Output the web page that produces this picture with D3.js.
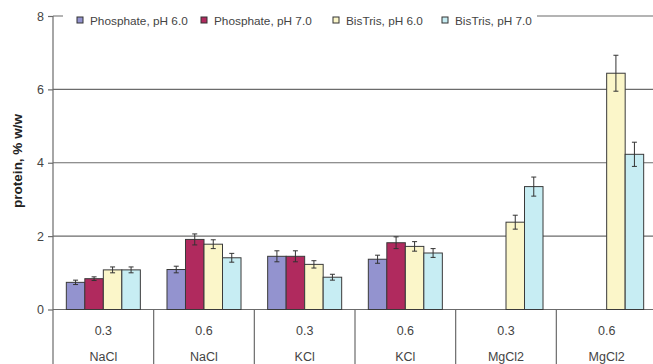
<!DOCTYPE html>
<html>
<head>
<meta charset="utf-8">
<script src="https://cdn.jsdelivr.net/npm/d3@7/dist/d3.min.js"></script>
<style>
  html, body { margin: 0; padding: 0; background: #fff; }
  svg { display: block; font-family: "Liberation Sans", Arial, sans-serif; }
</style>
</head>
<body>
<svg id="chart" width="653" height="364"></svg>
<script>
// Salt concentration (M) and salt type for each group
const concentrations = ["0.3", "0.6", "0.3", "0.6", "0.3", "0.6"];
const salts = ["NaCl", "NaCl", "KCl", "KCl", "MgCl2", "MgCl2"];

// Buffer series
const seriesNames = ["Phosphate, pH 6.0", "Phosphate, pH 7.0", "BisTris, pH 6.0", "BisTris, pH 7.0"];
const seriesColors = ["#9393cf", "#b02a5e", "#fbf6c9", "#c7edf3"];

// Protein solubility (% w/w); null = not measured
const phosphate60 = [0.74, 1.09, 1.45, 1.37, null, null];
const phosphate70 = [0.84, 1.91, 1.45, 1.82, null, null];
const bistris60   = [1.08, 1.78, 1.23, 1.72, 2.38, 6.44];
const bistris70   = [1.08, 1.41, 0.88, 1.54, 3.35, 4.23];

// Standard deviations
const err60P = [0.06, 0.09, 0.15, 0.11, null, null];
const err70P = [0.05, 0.15, 0.15, 0.16, null, null];
const err60B = [0.08, 0.12, 0.10, 0.13, 0.19, 0.49];
const err70B = [0.08, 0.12, 0.08, 0.12, 0.26, 0.33];

const yTicks = [0, 2, 4, 6, 8];

const values = [phosphate60, phosphate70, bistris60, bistris70];
const errors = [err60P, err70P, err60B, err70B];

const svg = d3.select("#chart");
const plotLeft = 53, plotRight = 657, plotTop = 16, zeroY = 309.5, plotBottom = 364;

const groups = concentrations.map((c, i) => i);
const x = d3.scaleBand().domain(groups).range([plotLeft, plotRight]).padding(0);
const xs = d3.scaleBand().domain(d3.range(seriesNames.length))
  .range([0, x.bandwidth()]).paddingInner(0).paddingOuter(0.72);
const y = d3.scaleLinear().domain([0, 8]).range([zeroY, plotTop]);

// Gridlines
svg.append("g").selectAll("line").data(yTicks).join("line")
  .attr("x1", plotLeft).attr("x2", 653)
  .attr("y1", d => y(d)).attr("y2", d => y(d))
  .attr("stroke", "#6b6b6b").attr("stroke-width", 1.2);

// Y axis with tick labels
const yAxis = d3.axisLeft(y).tickValues(yTicks).tickSize(5).tickPadding(4).tickFormat(d3.format("d"));
const ya = svg.append("g").attr("transform", `translate(${plotLeft},0)`).call(yAxis);
ya.select(".domain").remove();
ya.selectAll(".tick line").attr("stroke", "#6b6b6b").attr("stroke-width", 1.2);
ya.selectAll(".tick text").attr("font-size", 12.5).attr("fill", "#444")
  .attr("font-family", "Liberation Sans, Arial, sans-serif");
svg.append("line").attr("x1", plotLeft).attr("x2", plotLeft).attr("y1", plotTop).attr("y2", plotBottom)
  .attr("stroke", "#6b6b6b").attr("stroke-width", 1.2);

// Category separators below the axis
svg.append("g").selectAll("line").data(groups.slice(1)).join("line")
  .attr("x1", d => x(d)).attr("x2", d => x(d))
  .attr("y1", zeroY).attr("y2", plotBottom)
  .attr("stroke", "#6b6b6b").attr("stroke-width", 1.2);

// Category labels
const lab = svg.append("g").attr("font-size", 12.5).attr("fill", "#444").attr("text-anchor", "middle");
lab.selectAll(".conc").data(groups).join("text").attr("class", "conc")
  .attr("x", d => x(d) + x.bandwidth() / 2).attr("y", 335).text(d => concentrations[d]);
lab.selectAll(".salt").data(groups).join("text").attr("class", "salt")
  .attr("x", d => x(d) + x.bandwidth() / 2).attr("y", 361).text(d => salts[d]);

// Bars
const barData = [];
values.forEach((arr, s) => arr.forEach((v, g) => {
  if (v != null) barData.push({ s, g, v, e: errors[s][g] });
}));

svg.append("g").selectAll("rect").data(barData).join("rect")
  .attr("x", d => x(d.g) + xs(d.s))
  .attr("y", d => y(d.v))
  .attr("width", xs.bandwidth())
  .attr("height", d => zeroY - y(d.v))
  .attr("fill", d => seriesColors[d.s])
  .attr("stroke", "#3a3a3a").attr("stroke-width", 1);

// Error bars
const eb = svg.append("g").attr("stroke", "#333").attr("stroke-width", 1);
barData.forEach(d => {
  const cx = x(d.g) + xs(d.s) + xs.bandwidth() / 2;
  const y1 = y(d.v + d.e), y2 = y(d.v - d.e);
  eb.append("line").attr("x1", cx).attr("x2", cx).attr("y1", y1).attr("y2", y2);
  eb.append("line").attr("x1", cx - 2.5).attr("x2", cx + 2.5).attr("y1", y1).attr("y2", y1);
  eb.append("line").attr("x1", cx - 2.5).attr("x2", cx + 2.5).attr("y1", y2).attr("y2", y2);
});

// Legend
const legend = svg.append("g");
legend.append("rect").attr("x", 63).attr("y", 8).attr("width", 474).attr("height", 24).attr("fill", "#fff");
const legX = [77, 201, 333, 442];
seriesNames.forEach((name, i) => {
  legend.append("rect").attr("x", legX[i]).attr("y", 17).attr("width", 6).attr("height", 6)
    .attr("fill", seriesColors[i]).attr("stroke", "#333").attr("stroke-width", 1);
  legend.append("text").attr("x", legX[i] + 13).attr("y", 24.5)
    .attr("font-size", 11.8).attr("fill", "#444").text(name);
});

// Y axis title
svg.append("text")
  .attr("transform", "translate(22,161) rotate(-90)")
  .attr("text-anchor", "middle").attr("font-size", 13.5).attr("font-weight", "bold")
  .attr("fill", "#222").text("protein, % w/w");
</script>
</body>
</html>
